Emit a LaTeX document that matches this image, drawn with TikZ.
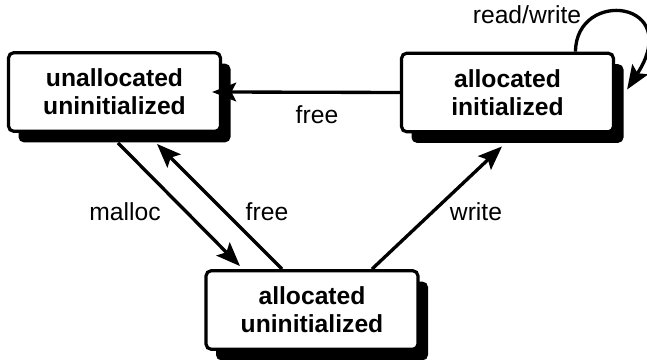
\documentclass[tikz,border=0pt]{standalone}
\usepackage{fontspec}
\setmainfont{Liberation Sans}
\usetikzlibrary{arrows.meta,shadows,calc}
\tikzset{
  statebox/.style={draw=black, fill=white, line width=2.4pt, rounded corners=4pt,
    minimum width=159pt, minimum height=59pt, align=center, inner sep=0pt,
    font=\fontsize{18.5}{21}\selectfont\bfseries,
    general shadow={fill=black, shadow xshift=7.5pt, shadow yshift=-8.25pt}},
  trans/.style={line width=2.5pt, -{Stealth[length=18pt,width=14pt,inset=3.5pt]}},
  lbl/.style={font=\fontsize{18.5}{21}\selectfont, inner sep=0pt}
}
\begin{document}
\begin{tikzpicture}[x=0.75pt,y=-0.75pt]
\useasboundingbox (0,0) rectangle (647,360);
\node[statebox] (b1) at (114.5,92) {unallocated\\uninitialized};
\node[statebox] (b2) at (507.5,92.5) {allocated\\initialized};
\node[statebox] (b3) at (312,310) {allocated\\uninitialized};
% free (top)
\draw[trans, shorten >=-7.5pt] (b2.west) -- (b1.east);
% malloc
\coordinate (m1) at ($(b1.south)+(3.5,10)$);
\coordinate (m2) at ($(b3.north)+(-72,-3)$);
\draw[trans] (m1) -- (m2);
% free (middle)
\coordinate (f1) at ($(b3.north)+(-30,0)$);
\coordinate (f2) at ($(b1.south)+(42.5,11)$);
\draw[trans] (f1) -- (f2);
% write
\coordinate (w1) at ($(b3.north)+(60,0)$);
\coordinate (w2) at ($(b2.south)+(-5.5,13)$);
\draw[trans] (w1) -- (w2);
% read/write loop
\coordinate (r1) at ($(b2.north)+(68,0)$);
\coordinate (r2) at ($(b2.east)+(12,-3)$);
\draw[trans] (r1) .. controls (576,-12) and (685,0) .. (r2);
% labels
\node[lbl] (lfree1) at (317,115) {free};
\node[lbl] (lmalloc) at (125,212) {malloc};
\node[lbl] (lfree2) at (267,212) {free};
\node[lbl] (lwrite) at (476,212) {write};
\node[lbl] (lrw) at (527,15) {read/write};
\end{tikzpicture}
\end{document}
